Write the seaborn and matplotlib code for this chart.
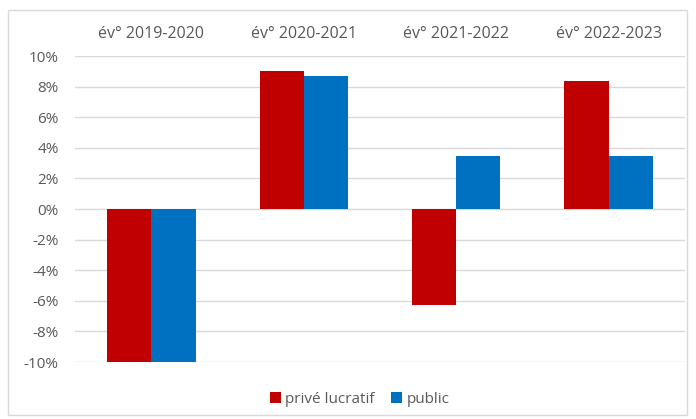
import matplotlib
matplotlib.use("Agg")
import matplotlib.pyplot as plt
from matplotlib.patches import Rectangle
from matplotlib.ticker import FuncFormatter
import seaborn as sns
import pandas as pd

# values (%)
periods = ["év° 2019-2020", "év° 2020-2021", "év° 2021-2022", "év° 2022-2023"]
prive_lucratif = [-10.0, 9.0, -6.3, 8.4]
public = [-10.0, 8.7, 3.5, 3.5]
series_names = ["privé lucratif", "public"]
y_ticks = list(range(-10, 11, 2))

df = pd.DataFrame({
    "periode": periods * 2,
    "variation": prive_lucratif + public,
    "secteur": [series_names[0]] * len(periods) + [series_names[1]] * len(periods),
})

sns.set_theme(style="white")
plt.rcParams["font.family"] = ["Open Sans", "DejaVu Sans"]
text_grey = "#595959"

fig = plt.figure(figsize=(6.96, 4.19), dpi=100)
ax = fig.add_axes([0.108, 0.136, 0.876, 0.730])

sns.barplot(
    data=df, x="periode", y="variation", hue="secteur",
    palette=["#C00000", "#0070C0"], width=0.58, gap=0,
    saturation=1, linewidth=0, ax=ax, legend=True,
)

ax.set_ylim(-10, 10)
ax.set_yticks(y_ticks)
ax.yaxis.set_major_formatter(FuncFormatter(lambda v, _: f"{v:.0f}%"))
ax.grid(axis="y", color="#D9D9D9", linewidth=1)
ax.set_axisbelow(True)
for s in ax.spines.values():
    s.set_visible(False)

ax.xaxis.tick_top()
ax.tick_params(axis="x", length=0, pad=10, labelsize=11.5, labelcolor=text_grey)
ax.tick_params(axis="y", length=0, pad=12, labelsize=11, labelcolor=text_grey)
ax.set_xlabel("")
ax.set_ylabel("")

handles, labels = ax.get_legend_handles_labels()
ax.legend_.remove()
fig.legend(handles, labels, loc="center", bbox_to_anchor=(0.517, 0.047), ncol=2,
           frameon=False, handlelength=0.7, handleheight=0.7, handletextpad=0.3,
           columnspacing=1.1, labelcolor=text_grey, prop={"size": 11})

# light border around the chart area
fig.patches.append(Rectangle((0.012, 0.01), 0.975, 0.967, transform=fig.transFigure,
                             fill=False, edgecolor="#D9D9D9", linewidth=1))

fig.savefig("out.png", dpi=100)
